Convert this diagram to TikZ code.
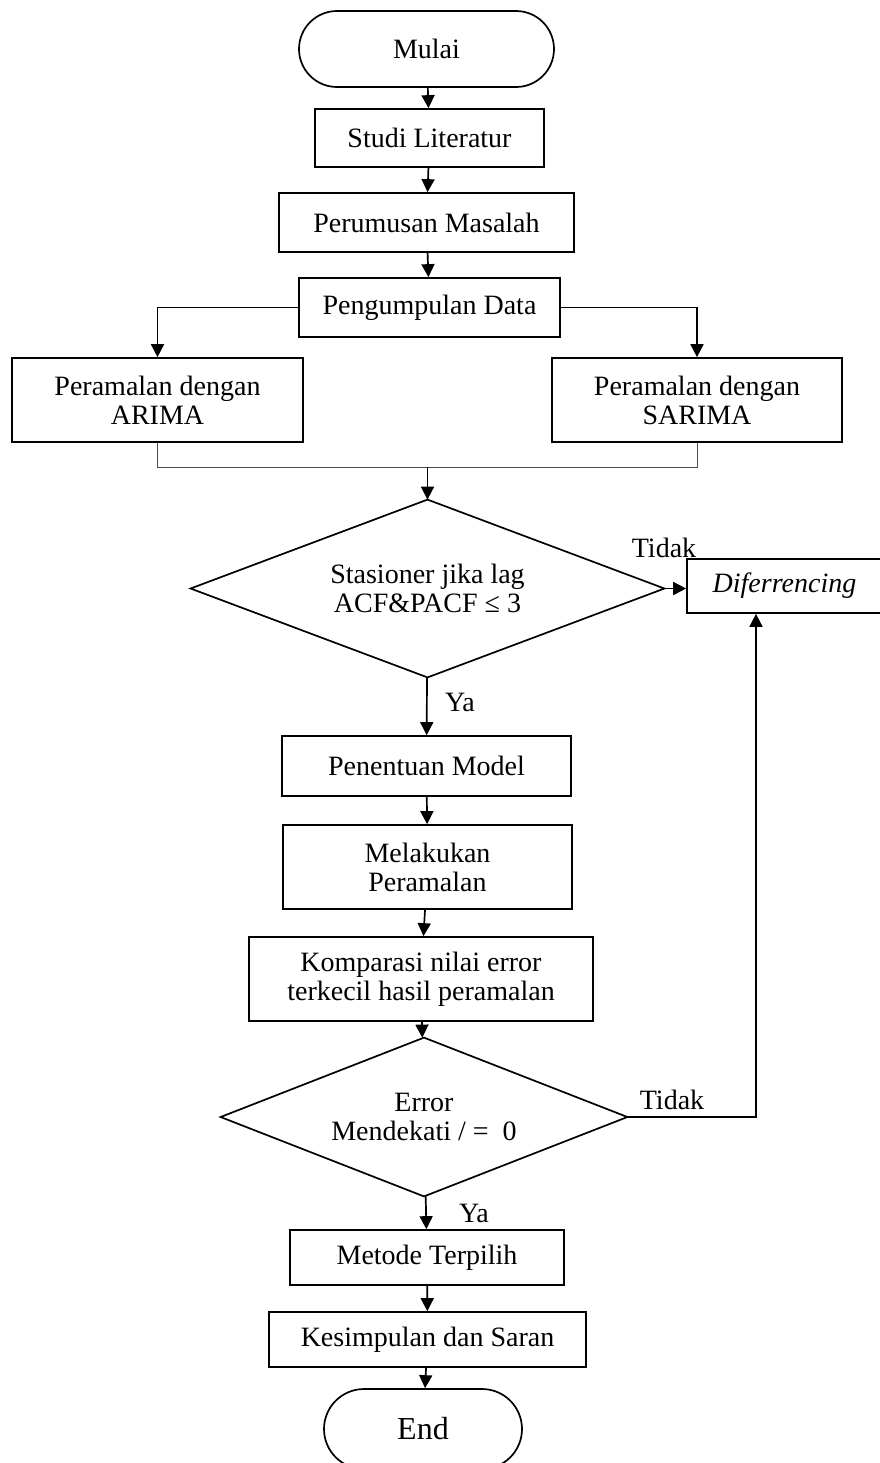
\documentclass[tikz,border=0pt]{standalone}
\usepackage{fontspec}
\setmainfont{Liberation Serif}
\usetikzlibrary{arrows.meta}
\begin{document}
\begin{tikzpicture}[x=0.5pt,y=-0.5pt,
  base/.style={draw,line width=0.85pt,align=center,inner sep=1pt,
    font=\fontsize{14}{14.5}\selectfont},
  box/.style={base,rectangle},
  term/.style={base,rectangle,rounded corners=19pt},
  dec/.style={rectangle,align=center,inner sep=0pt,font=\fontsize{14}{14.5}\selectfont},
  decline/.style={line width=0.85pt,line join=miter},
  arr/.style={line width=0.85pt,-{Triangle[length=6.5pt,width=6.5pt]}},
  thinline/.style={line width=0.45pt,draw=black!70},
  lab/.style={font=\fontsize{14}{14.5}\selectfont,inner sep=0pt}]
\useasboundingbox (0,0) rectangle (879,1463);

\node[term,minimum width=127.5pt,minimum height=38pt] (mulai) at (426.5,49) {Mulai};
\node[box,minimum width=114.5pt,minimum height=29pt] (studi) at (429.5,138) {Studi Literatur};
\node[box,minimum width=147.5pt,minimum height=29.5pt] (rumus) at (426.5,222.5) {Perumusan Masalah};
\node[box,minimum width=130.5pt,minimum height=29.5pt] (kumpul) at (429.5,307.5) {Pengumpulan Data};
\node[box,minimum width=145.5pt,minimum height=42pt] (arima) at (157.5,400) {Peramalan dengan\\ARIMA};
\node[box,minimum width=145pt,minimum height=42pt] (sarima) at (697,400) {Peramalan dengan\\SARIMA};
\node[dec,minimum width=236.5pt,minimum height=88.5pt] (d1) at (427.5,588.5) {Stasioner jika lag\\ACF\&PACF ≤ 3};
\draw[decline] (d1.north) -- (d1.east) -- (d1.south) -- (d1.west) -- cycle;
\node[box,minimum width=97.5pt,minimum height=27pt] (dif) at (784.5,586) {\itshape Diferrencing};
\node[box,minimum width=144.5pt,minimum height=30pt] (tentu) at (426.5,766) {Penentuan Model};
\node[box,minimum width=144.5pt,minimum height=42pt] (laku) at (427.5,867) {Melakukan\\Peramalan};
\node[box,minimum width=172pt,minimum height=42pt] (komp) at (421,979) {Komparasi nilai error\\terkecil hasil peramalan};
\node[dec,minimum width=203pt,minimum height=79pt] (d2) at (424,1117) {Error\\Mendekati / =\ \ 0};
\draw[decline] (d2.north) -- (d2.east) -- (d2.south) -- (d2.west) -- cycle;
\node[box,minimum width=137pt,minimum height=27.5pt] (metode) at (427,1257.5) {Metode Terpilih};
\node[box,minimum width=158.5pt,minimum height=27.5pt] (simpul) at (427.5,1339.5) {Kesimpulan dan Saran};
\node[term,minimum width=99pt,minimum height=40pt,rounded corners=20pt,
  font=\fontsize{16}{17}\selectfont] (end) at (423,1429) {End};

\draw[arr] (mulai) -- (studi);
\draw[arr] (studi) -- (rumus);
\draw[arr] (rumus) -- (kumpul);
\draw[arr] (kumpul.west) -| (arima.north);
\draw[arr] (kumpul.east) -| (sarima.north);
\coordinate (m) at (427.5,467);
\draw[thinline] (arima.south) |- (m) -| (sarima.south);
\draw[arr] (m) -- (d1.north);
\draw[arr] (d1.east) -- (dif.west |- d1.east);
\node[lab] (t1) at (664,548) {Tidak};
\draw[arr] (d1) -- (tentu);
\node[lab] (y1) at (460,702) {Ya};
\draw[arr] (tentu) -- (laku);
\draw[arr] (laku) -- (komp);
\draw[arr] (komp) -- (d2);
\coordinate (fb) at (756,1117);
\draw[arr] (d2.east) -- (fb) -- (fb |- dif.south);
\node[lab] (t2) at (672,1100) {Tidak};
\draw[arr] (d2) -- (metode);
\node[lab] (y2) at (474,1213) {Ya};
\draw[arr] (metode) -- (simpul);
\draw[arr] (simpul) -- (end);
\end{tikzpicture}
\end{document}
